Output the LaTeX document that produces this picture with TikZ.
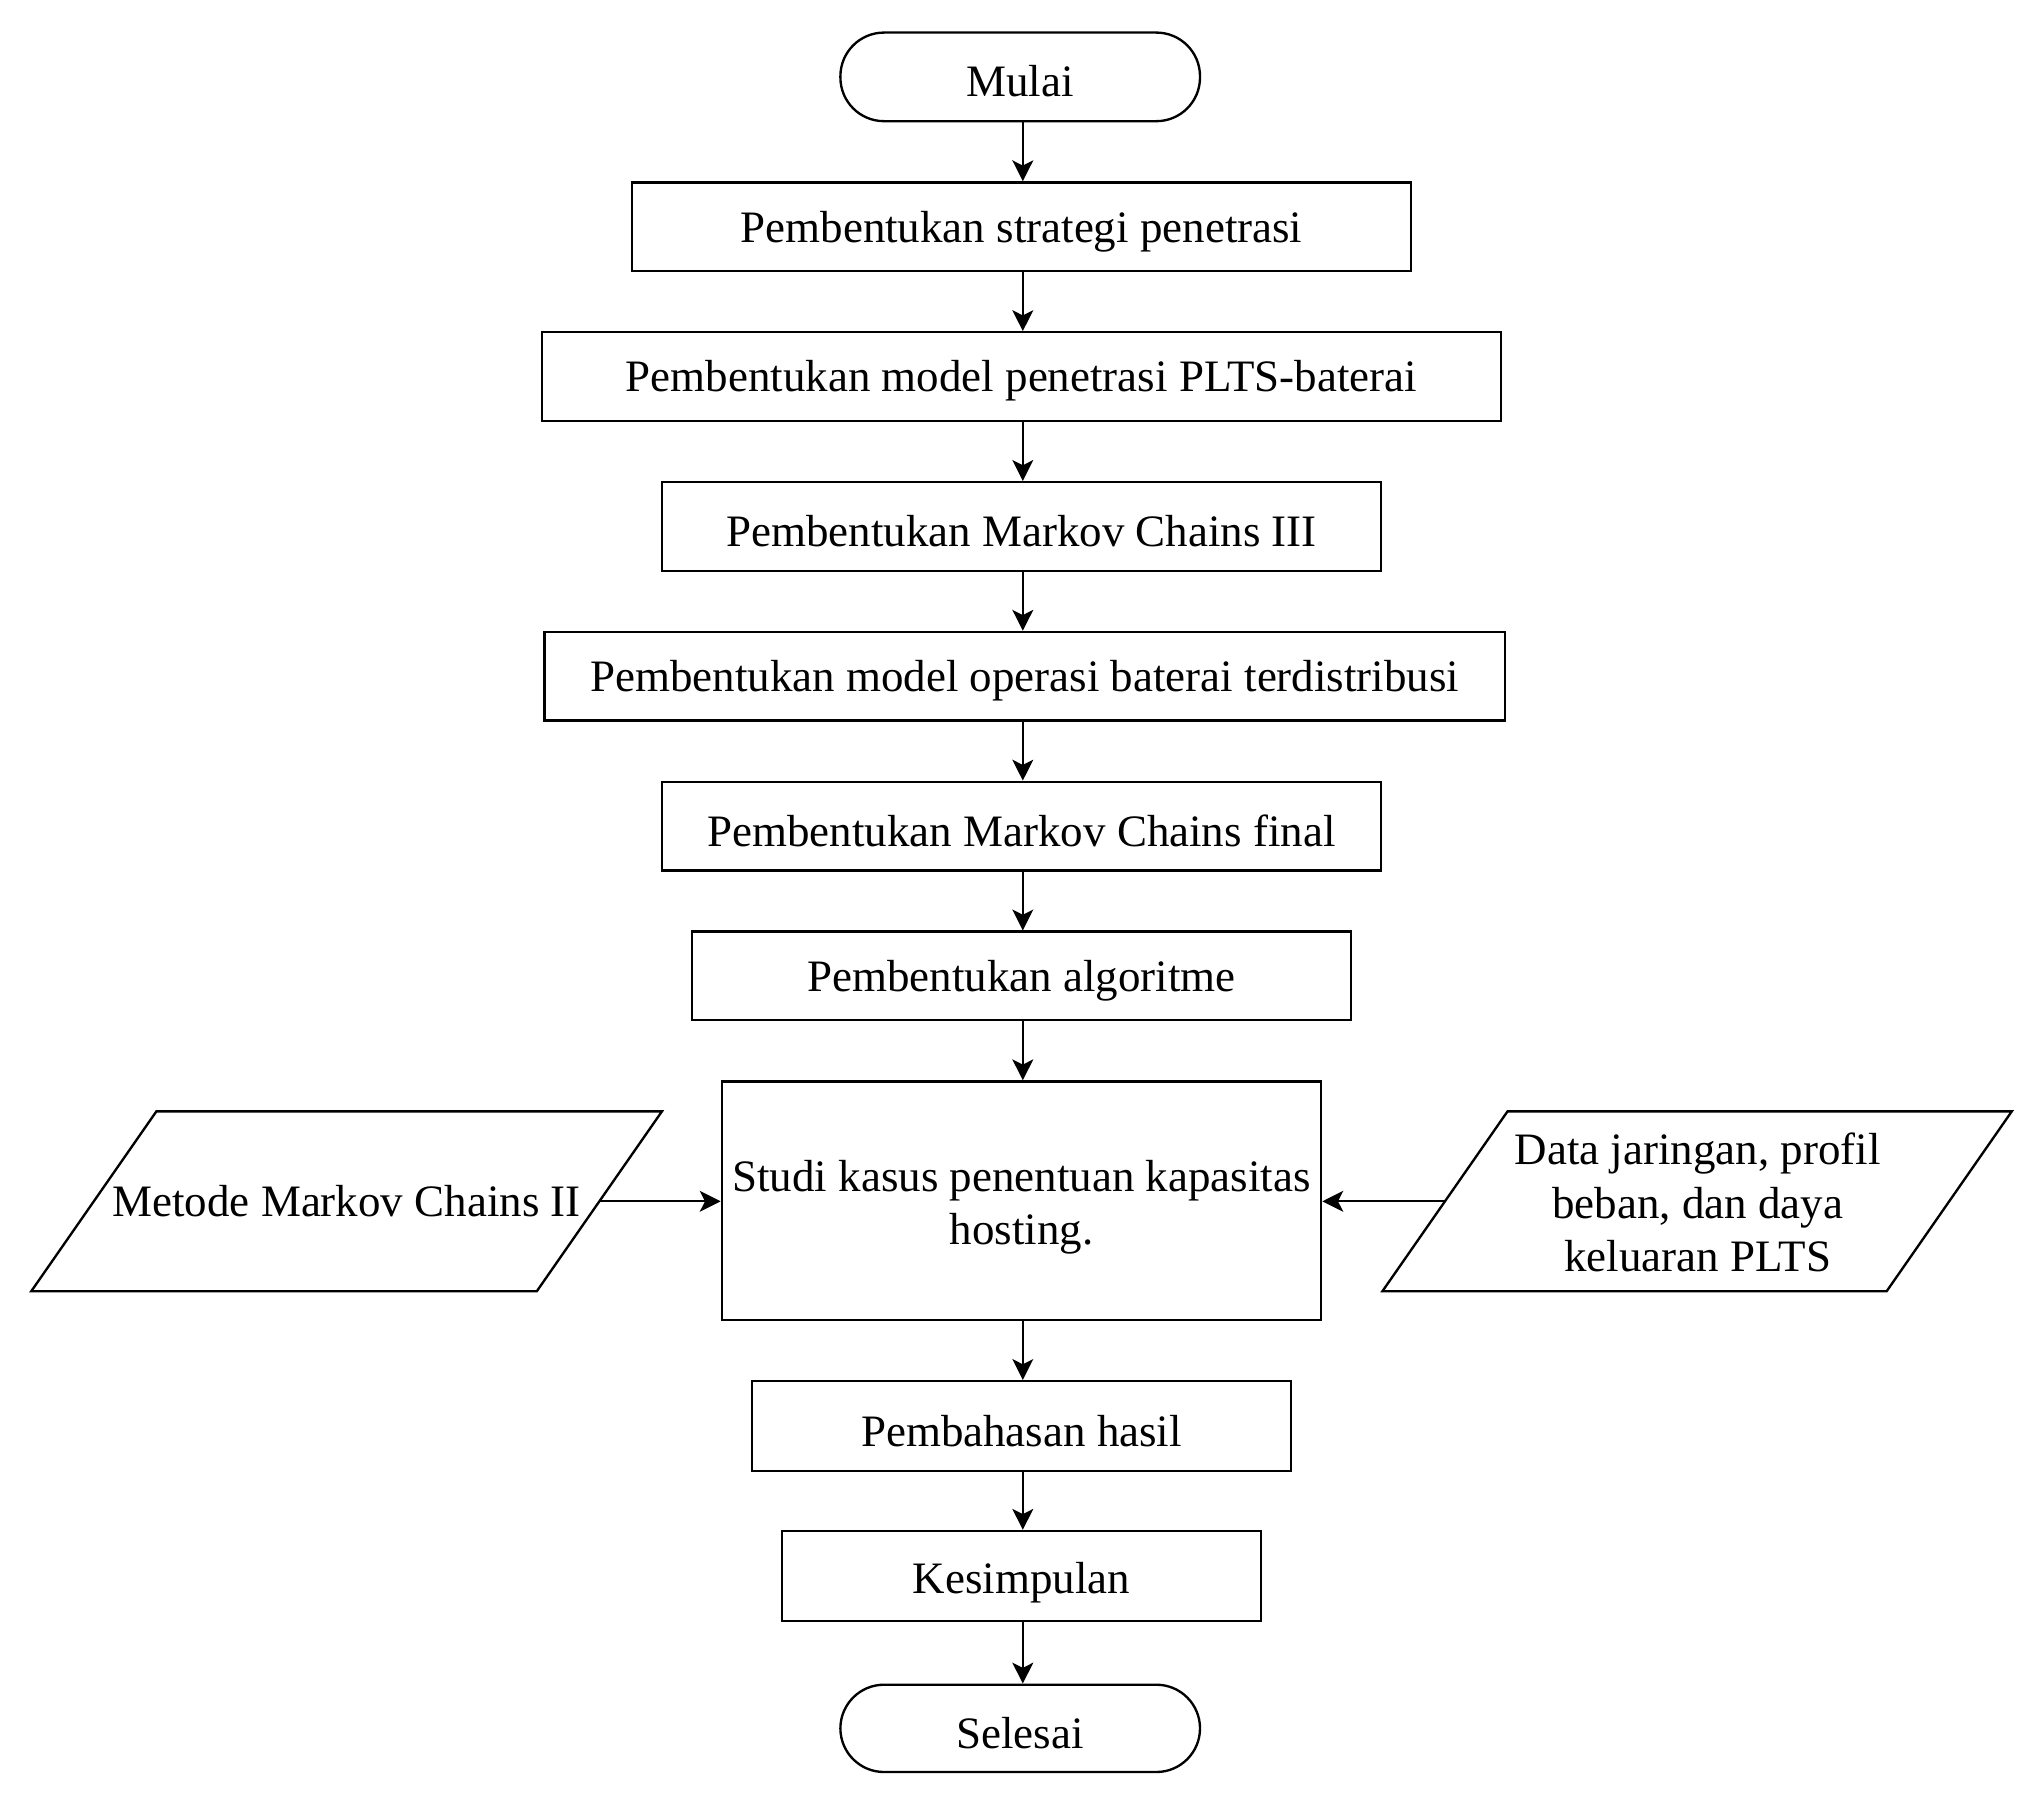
\documentclass[tikz,border=0pt]{standalone}
\usepackage{fontspec}
\setmainfont{Liberation Serif}
\usetikzlibrary{arrows.meta}
\newcommand{\lowr}[1]{\raisebox{-3.5pt}[\height][\depth]{#1}}
\begin{document}
\begin{tikzpicture}[x=1pt,y=-1pt,
  every node/.style={font=\fontsize{34.5}{41}\selectfont},
  proc/.style={draw,line width=1.8pt,inner sep=0pt,align=center},
  term/.style={draw,line width=1.8pt,inner sep=0pt,rounded corners=33.5pt,align=center},
  io/.style={draw,line width=1.8pt,line join=miter},
  arr/.style={line width=1.8pt,-{Stealth[length=16pt,width=16pt,inset=4pt]}}]
\useasboundingbox (0,0) rectangle (1568,1384);
\node[term,minimum width=276pt,minimum height=68pt] (start) at (783,59) {\lowr{Mulai}};
\node[proc,minimum width=598pt,minimum height=68pt] (b1) at (784,174) {\lowr{Pembentukan strategi penetrasi}};
\node[proc,minimum width=736pt,minimum height=68pt] (b2) at (784,289) {\lowr{Pembentukan model penetrasi PLTS-baterai}};
\node[proc,minimum width=552pt,minimum height=68pt] (b3) at (784,404) {\lowr{Pembentukan Markov Chains III}};
\node[proc,minimum width=737pt,minimum height=68pt] (b4) at (786.5,519) {\lowr{Pembentukan model operasi baterai terdistribusi}};
\node[proc,minimum width=552pt,minimum height=68pt] (b5) at (784,634) {\lowr{Pembentukan Markov Chains final}};
\node[proc,minimum width=506pt,minimum height=68pt] (b6) at (784,749) {\lowr{Pembentukan algoritme}};
\node[proc,minimum width=460pt,minimum height=183pt] (big) at (784,921.5) {\raisebox{-5pt}[\height][\depth]{\begin{tabular}{@{}c@{}}Studi kasus penentuan kapasitas\\hosting.\end{tabular}}};
\node[proc,minimum width=414pt,minimum height=69pt] (b7) at (784,1094.5) {\lowr{Pembahasan hasil}};
\node[proc,minimum width=368pt,minimum height=69pt] (b8) at (784,1209.5) {\raisebox{-5pt}[\height][\depth]{Kesimpulan}};
\node[term,minimum width=276pt,minimum height=67pt] (end) at (783,1326.5) {\lowr{Selesai}};
% input parallelograms
\draw[io] (120,853) -- (508,853) -- (412,991) -- (24,991) -- cycle;
\node[align=center] (left) at (266,922) {Metode Markov Chains II};
\coordinate (leftR) at (460,922);
\draw[io] (1157,853) -- (1544,853) -- (1448,991) -- (1061,991) -- cycle;
\node[align=center] (right) at (1303,923) {Data jaringan, profil\\beban, dan daya\\keluaran PLTS};
\coordinate (rightL) at (1109,922);
% connectors
\foreach \a/\b in {start/b1,b1/b2,b2/b3,b3/b4,b4/b5,b5/b6,b6/big,big/b7,b7/b8,b8/end}
  \draw[arr] (\a.south -| 785,0) -- (\b.north -| 785,0);
\draw[arr] (leftR) -- (leftR -| big.west);
\draw[arr] (rightL) -- (rightL -| big.east);
\end{tikzpicture}
\end{document}
